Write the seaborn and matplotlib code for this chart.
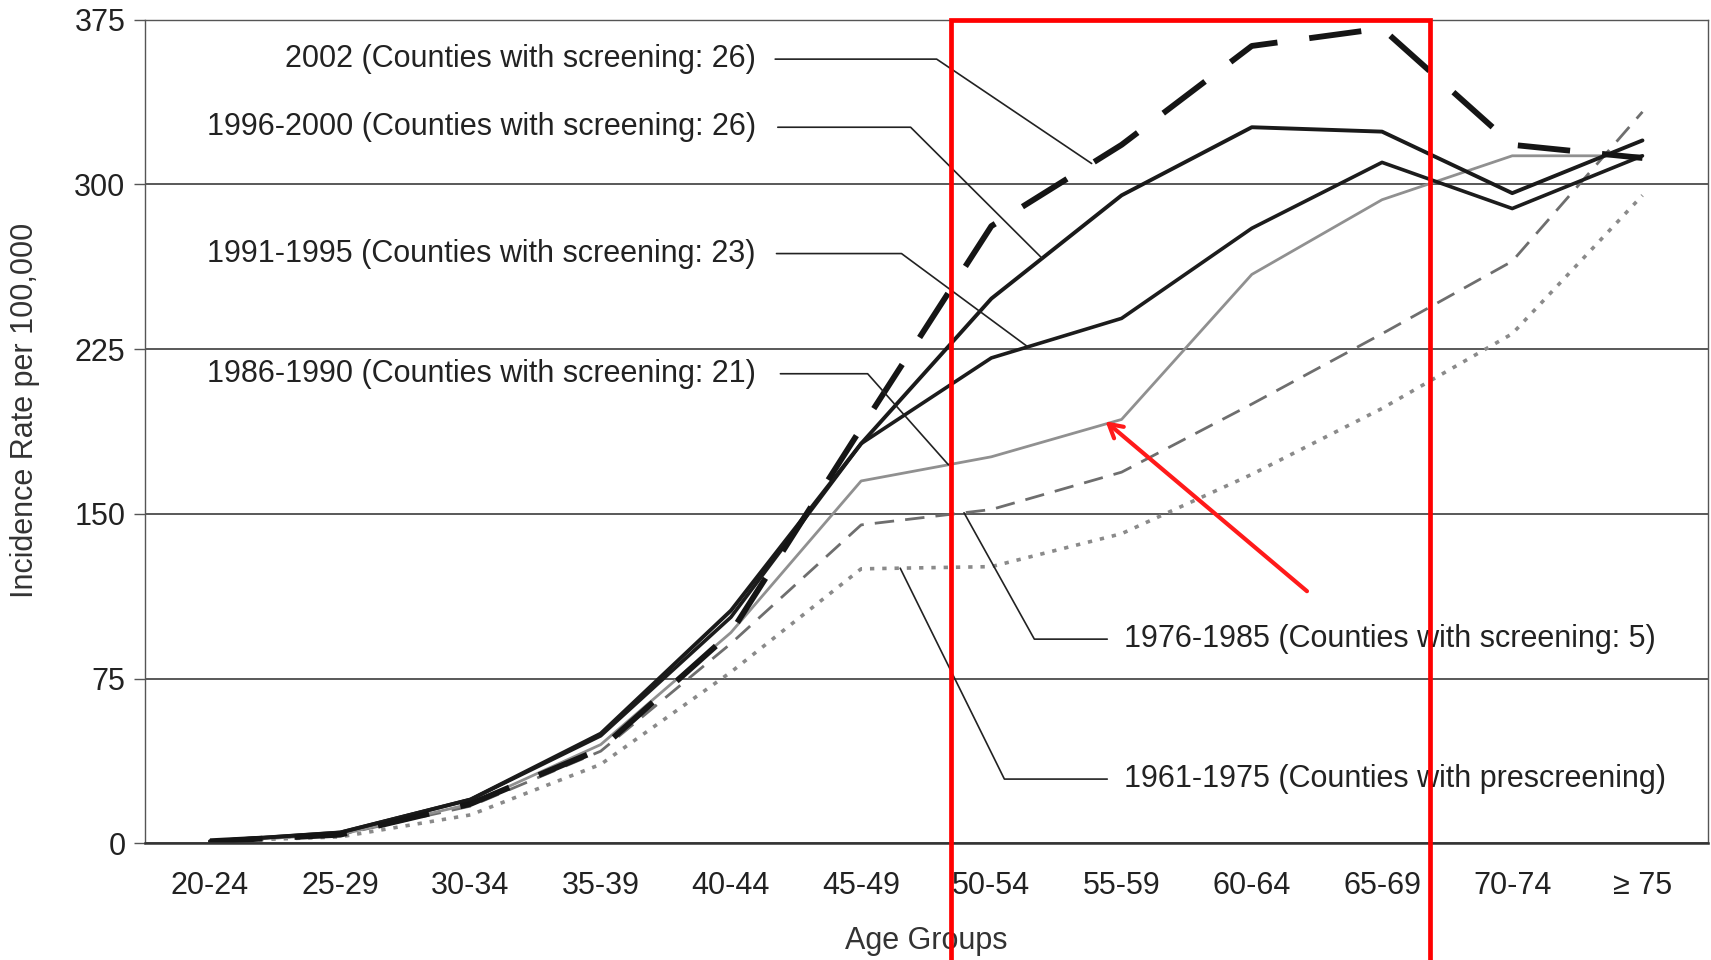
import numpy as np
import pandas as pd
import matplotlib
matplotlib.use("Agg")
import matplotlib.pyplot as plt
import matplotlib.patches as patches
from matplotlib import font_manager
import seaborn as sns

# data
age_groups = ['20-24', '25-29', '30-34', '35-39', '40-44', '45-49',
              '50-54', '55-59', '60-64', '65-69', '70-74', '≥ 75']
rate_2002 = [1, 4, 18, 43, 96, 189, 281, 318, 363, 371, 318, 312]
rate_1996_2000 = [1, 5, 20, 50, 106, 182, 248, 295, 326, 324, 296, 320]
rate_1991_1995 = [1, 5, 20, 49, 103, 182, 221, 239, 280, 310, 289, 313]
rate_1986_1990 = [1, 4, 18, 45, 96, 165, 176, 193, 259, 293, 313, 313]
rate_1976_1985 = [1, 4, 17, 42, 91, 145, 152, 169, 200, 232, 265, 333]
rate_1961_1975 = [1, 3, 13, 36, 78, 125, 126, 141, 168, 198, 232, 295]

labels = ['2002 (Counties with screening: 26)',
          '1996-2000 (Counties with screening: 26)',
          '1991-1995 (Counties with screening: 23)',
          '1986-1990 (Counties with screening: 21)',
          '1976-1985 (Counties with screening: 5)',
          '1961-1975 (Counties with prescreening)']

sns.set_theme(style="white")

def has_font(name):
    try:
        font_manager.findfont(font_manager.FontProperties(family=name), fallback_to_default=False)
        return True
    except Exception:
        return False

narrow = has_font('Liberation Sans Narrow')
plt.rcParams['font.family'] = ['Liberation Sans', 'DejaVu Sans']
ann_family = ['Liberation Sans Narrow', 'DejaVu Sans'] if narrow else ['Liberation Sans', 'DejaVu Sans']
ann_size = 26 if narrow else 22

fig = plt.figure(figsize=(17.11, 9.6), dpi=100)
ax = fig.add_axes([0.0847, 0.1214, 0.9133, 0.8582])

x = np.arange(len(age_groups))
df = pd.DataFrame({'age': x, 'r2002': rate_2002, 'r9600': rate_1996_2000,
                   'r9195': rate_1991_1995, 'r8690': rate_1986_1990,
                   'r7685': rate_1976_1985, 'r6175': rate_1961_1975})

styles = {
    'r6175': dict(color='#8a8a8a', lw=2.6, linestyle=(0, (1.2, 2.2))),
    'r7685': dict(color='#6e6e6e', lw=2.0, linestyle=(0, (7, 4))),
    'r8690': dict(color='#909090', lw=2.0, linestyle='-'),
    'r9195': dict(color='#1c1c1c', lw=2.6, linestyle='-'),
    'r9600': dict(color='#1a1a1a', lw=2.8, linestyle='-'),
    'r2002': dict(color='#151515', lw=4.2, linestyle=(0, (9, 5.5))),
}
for col, st in styles.items():
    sns.lineplot(data=df, x='age', y=col, ax=ax, **st)

ax.set_xlim(-0.5, 11.5)
ax.set_ylim(0, 375)
ax.set_yticks([0, 75, 150, 225, 300, 375])
ax.set_xticks(x)
ax.set_xticklabels(age_groups)
ax.set_xticks(np.arange(-0.5, 12, 1), minor=True)
ax.tick_params(axis='x', which='major', length=0, pad=20, labelsize=22, colors='#222222')
ax.tick_params(axis='x', which='minor', length=8, width=1, color='#555555', direction='out')
ax.tick_params(axis='y', length=8, width=1, color='#555555', pad=6, labelsize=22,
               labelcolor='#222222', direction='out', left=True)
ax.grid(axis='y', color='#3c3c3c', lw=1.2)
ax.grid(axis='x', visible=False)
for side in ['top', 'right', 'left']:
    ax.spines[side].set_color('#555555')
    ax.spines[side].set_linewidth(1.0)
ax.spines['bottom'].set_color('#333333')
ax.spines['bottom'].set_linewidth(1.8)

ax.set_xlabel('Age Groups', fontsize=22, color='#333333', labelpad=18)
ax.set_ylabel('Incidence Rate per 100,000', fontsize=22, color='#333333')
ax.yaxis.set_label_coords(-0.067, 0.526)

# leader labels: text position, elbow, point on the series
series_order = [rate_2002, rate_1996_2000, rate_1991_1995, rate_1986_1990,
                rate_1976_1985, rate_1961_1975]
upper = [(357, 4.34, 5.58, 6.77), (326, 4.36, 5.38, 6.39),
         (268.5, 4.35, 5.31, 6.28), (213.8, 4.38, 5.05, 5.67)]
for i, (yy, xs, xe, xt) in enumerate(upper):
    yt = np.interp(xt, x, series_order[i])
    ax.plot([xs, xe, xt], [yy, yy, yt], color='#222222', lw=1.2)
    ax.text(4.19, yy, labels[i], ha='right', va='center', fontsize=ann_size,
            family=ann_family, color='#222222')
lower = [(93, 6.89, 6.33, 5.79), (29.3, 6.89, 6.10, 5.30)]
for j, (yy, xs, xe, xt) in enumerate(lower):
    yt = np.interp(xt, x, series_order[4 + j])
    ax.plot([xs, xe, xt], [yy, yy, yt], color='#222222', lw=1.2)
    ax.text(7.02, yy, labels[4 + j], ha='left', va='center', fontsize=ann_size,
            family=ann_family, color='#222222')

# red highlight box and arrow
rect = patches.Rectangle((0.556, -0.05), 0.28, 0.9796 + 0.05, transform=fig.transFigure,
                         fill=False, edgecolor='#ff0000', lw=3.4, clip_on=False, zorder=10)
fig.patches.append(rect)
ax.annotate('', xy=(6.86, 193), xytext=(8.44, 114),
            arrowprops=dict(arrowstyle='->,head_length=0.8,head_width=0.45',
                            color='#ff1a1a', lw=3))

fig.savefig('out.png', dpi=100)
